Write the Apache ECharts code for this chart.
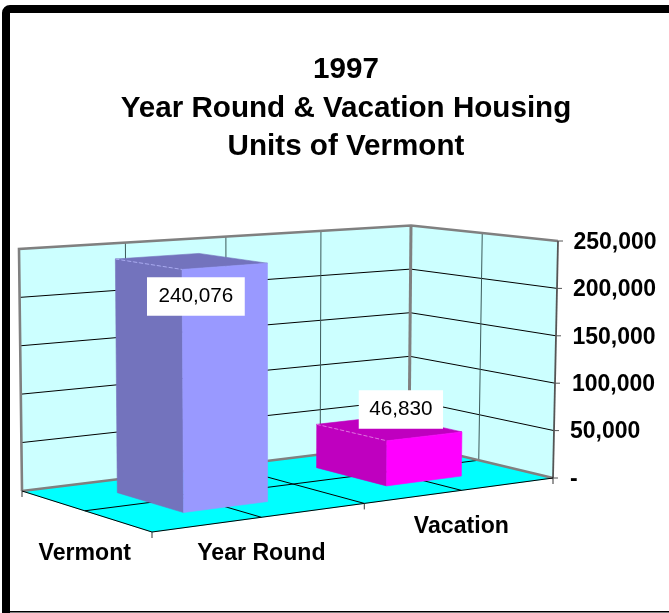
<!DOCTYPE html>
<html>
<head>
<meta charset="utf-8">
<style>html,body{margin:0;padding:0;background:#fff}#c{width:669px;height:613px}</style>
<script src="https://cdn.jsdelivr.net/npm/echarts@6/dist/echarts.min.js"></script>
</head>
<body>
<div id="c"></div>
<script>
var titleLines = ['1997', 'Year Round & Vacation Housing', 'Units of Vermont'];
var categories = ['Year Round', 'Vacation'];
var depthCategory = 'Vermont';
var vermontValues = [240076, 46830];
var valueTexts = ['240,076', '46,830'];
var yMax = 250000;
var yStep = 50000;

// Scene of the 3-D box: floor corners and the height vector standing on each
var floorA = [22, 491], floorB = [409, 443.5], floorC = [553, 478], floorD = [152, 532];
var riseA = [-3, -242], riseB = [2, -218], riseC = [5, -237], riseD = [-2.5, -262];

var FONT = '"Liberation Sans", Arial, sans-serif';
var BOLD = 'bold 23.1px ' + FONT;
var REG = '20.7px ' + FONT;

var hom = (function () {
  var x0 = floorA[0], y0 = floorA[1], x1 = floorB[0], y1 = floorB[1],
      x2 = floorC[0], y2 = floorC[1], x3 = floorD[0], y3 = floorD[1];
  var sx = x0 - x1 + x2 - x3, sy = y0 - y1 + y2 - y3;
  var dx1 = x1 - x2, dx2 = x3 - x2, dy1 = y1 - y2, dy2 = y3 - y2;
  var den = dx1 * dy2 - dx2 * dy1;
  var g = (sx * dy2 - dx2 * sy) / den, h = (dx1 * sy - sx * dy1) / den;
  return {
    a: x1 - x0 + g * x1, b: x3 - x0 + h * x3, c: x0,
    d: y1 - y0 + g * y1, e: y3 - y0 + h * y3, f: y0, g: g, h: h
  };
})();

// u runs along the categories, v from back to front, frac is the share of the value axis
function project(u0, v, frac) {
  var u = u0 + 0.03 * u0 * (1 - u0);
  var w = hom.g * u + hom.h * v + 1;
  var x = (hom.a * u + hom.b * v + hom.c) / w;
  var y = (hom.d * u + hom.e * v + hom.f) / w;
  var rx = (1 - u) * ((1 - v) * riseA[0] + v * riseD[0]) + u * ((1 - v) * riseB[0] + v * riseC[0]);
  var ry = (1 - u) * ((1 - v) * riseA[1] + v * riseD[1]) + u * ((1 - v) * riseB[1] + v * riseC[1]);
  return [x + rx * frac, y + ry * frac];
}
function fracOf(api, val) {
  var b = api.coord([0, 0])[1], t = api.coord([0, yMax])[1];
  return (b - api.coord([0, val])[1]) / (b - t);
}
function line(p, q, color, width) {
  return { type: 'line', shape: { x1: p[0], y1: p[1], x2: q[0], y2: q[1] },
           style: { stroke: color, lineWidth: width } };
}
function poly(points, fill) {
  return { type: 'polygon', shape: { points: points }, style: { fill: fill, stroke: fill, lineWidth: 0.6 } };
}
function label(text, x, y, font) {
  return { type: 'text', style: { text: text, x: x, y: y, font: font, fill: '#000', align: 'center', verticalAlign: 'middle' } };
}

function renderBox(params, api) {
  var c = [];
  var GREY = '#808080', BLACK = '#000', WALL = '#CCFFFF', FLOOR = '#00FFFF';
  var At = project(0, 0, 1), Bt = project(1, 0, 1), Ct = project(1, 1, 1);
  var A = project(0, 0, 0), B = project(1, 0, 0), C = project(1, 1, 0), D = project(0, 1, 0);
  c.push(poly([At, Bt, B, A], WALL));
  c.push(poly([Bt, Ct, C, B], WALL));
  c.push(poly([A, B, C, D], FLOOR));
  var n = yMax / yStep;
  for (var i = 1; i < n; i++) {
    var f = fracOf(api, i * yStep);
    c.push(line(project(0, 0, f), project(1, 0, f), BLACK, 1));
    c.push(line(project(1, 0, f), project(1, 1, f), BLACK, 1));
  }
  [0.25, 0.5, 0.75].forEach(function (u) {
    c.push(line(project(u, 0, 0), project(u, 0, 1), '#3c5a5a', 1));
    c.push(line(project(u, 0, 0), project(u, 1, 0), BLACK, 1));
  });
  c.push(line(project(1, 0.5, 0), project(1, 0.5, 1), '#3c5a5a', 1));
  c.push(line(project(0, 0.5, 0), project(1, 0.5, 0), BLACK, 1));
  // grey wall outlines
  c.push({ type: 'polyline', shape: { points: [A, At, Bt, Ct] }, style: { stroke: GREY, lineWidth: 2.6, fill: null } });
  c.push({ type: 'polyline', shape: { points: [A, B, C] }, style: { stroke: GREY, lineWidth: 2.6, fill: null } });
  c.push(line(B, Bt, GREY, 3));
  c.push(line(C, Ct, '#555', 1.8));
  // front floor edges and ticks
  c.push(line(A, D, BLACK, 1));
  c.push(line(D, C, BLACK, 1));
  [[0, 0], [0, 1], [0.5, 1], [1, 1]].forEach(function (uv) {
    var p = project(uv[0], uv[1], 0);
    c.push(line(p, [p[0], p[1] + 6], '#333', 1));
  });
  for (var k = 0; k <= n; k++) {
    var p = project(1, 1, fracOf(api, k * yStep));
    c.push(line(p, [p[0] + 5, p[1]], '#555', 1));
  }
  var m = project(0, 0.5, 0);
  c.push(label(depthCategory, m[0], m[1] + 43, BOLD));
  return { type: 'group', children: c };
}

var barStyles = [
  { front: '#9999FF', dark: '#7373BD', edge: '#A9A9F0' },
  { front: '#FF00FF', dark: '#BF00BF', edge: '#E070E0' }
];
var labelOffsets = [[5, 35.5], [12, -18.5]];
var labelPads = [[8.7, 11.5], [8.7, 10.5]];

function renderBar(params, api) {
  var idx = api.value(0), val = api.value(1);
  var s = barStyles[idx], count = categories.length;
  var u0 = (idx + 0.5) / count - 0.1, u1 = (idx + 0.5) / count + 0.1, v0 = 0.25, v1 = 0.75;
  var f = fracOf(api, val);
  var lb = project(u0, v0, 0), fb = project(u0, v1, 0), rb = project(u1, v1, 0);
  var lt = project(u0, v0, f), ft = project(u0, v1, f), rt = project(u1, v1, f), bt = project(u1, v0, f);
  var c = [
    poly([lb, fb, ft, lt], s.dark),
    poly([lt, ft, rt, bt], s.dark),
    poly([fb, rb, rt, ft], s.front)
  ];
  c.push({ type: 'line', shape: { x1: lt[0], y1: lt[1], x2: ft[0], y2: ft[1] },
           style: { stroke: s.edge, lineWidth: 1, lineDash: [4, 2] } });
  var mid = project((u0 + u1) / 2, (v0 + v1) / 2, f);
  var off = labelOffsets[idx], pad = labelPads[idx];
  c.push({ type: 'text', z2: 5, style: {
    text: valueTexts[idx], x: mid[0] + off[0], y: mid[1] + off[1], font: REG, fill: '#000',
    align: 'center', verticalAlign: 'middle', backgroundColor: '#fff',
    padding: [pad[0], pad[1]]
  } });
  var e = project((idx + 0.5) / count, 1, 0);
  c.push(label(categories[idx], e[0], e[1] + 36, BOLD));
  return { type: 'group', children: c };
}

var pads = { 0: 0, 50000: 0, 100000: 2, 150000: 2.5, 200000: 3, 250000: 3.5 };
var rich = {};
Object.keys(pads).forEach(function (k) {
  rich['t' + k] = { padding: [3, 0, 0, pads[k]], fontFamily: FONT, fontWeight: 'bold', fontSize: 23, color: '#000' };
});

var chart = echarts.init(document.getElementById('c'), null, { renderer: 'canvas' });
chart.setOption({
  animation: false,
  backgroundColor: '#fff',
  title: {
    text: titleLines.join('\n'),
    left: 341, top: 46, textAlign: 'center',
    textStyle: { fontFamily: FONT, fontWeight: 'bold', fontSize: 29.6, lineHeight: 38.5, color: '#000' }
  },
  grid: { left: 0, right: 99, top: 241, height: 237, containLabel: false },
  xAxis: { type: 'category', data: categories, show: false },
  yAxis: {
    type: 'value', position: 'right', min: 0, max: yMax, interval: yStep,
    axisLine: { show: false }, axisTick: { show: false }, splitLine: { show: false },
    axisLabel: {
      margin: 0, align: 'left',
      formatter: function (v) {
        var t = v === 0 ? '-' : v.toString().replace(/\B(?=(\d{3})+$)/g, ',');
        return '{t' + v + '|' + t + '}';
      },
      rich: rich
    }
  },
  graphic: [
    { type: 'rect', silent: true, z: -1, shape: { x: 6, y: 9, width: 720, height: 660, r: 4 },
      style: { fill: null, stroke: '#000', lineWidth: 8 } },
    { type: 'line', silent: true, z: -1, shape: { x1: 2, y1: 611.7, x2: 669, y2: 611.7 },
      style: { stroke: '#000', lineWidth: 1.5 } }
  ],
  series: [
    { type: 'custom', name: 'box', coordinateSystem: 'cartesian2d', silent: true, clip: false,
      z: 1, data: [[0, 0]], renderItem: renderBox, encode: { x: 0, y: 1 } },
    { type: 'custom', name: depthCategory, coordinateSystem: 'cartesian2d', silent: true, clip: false,
      z: 2, data: vermontValues.map(function (v, i) { return [i, v]; }),
      renderItem: renderBar, encode: { x: 0, y: 1 } }
  ]
});
</script>
</body>
</html>
